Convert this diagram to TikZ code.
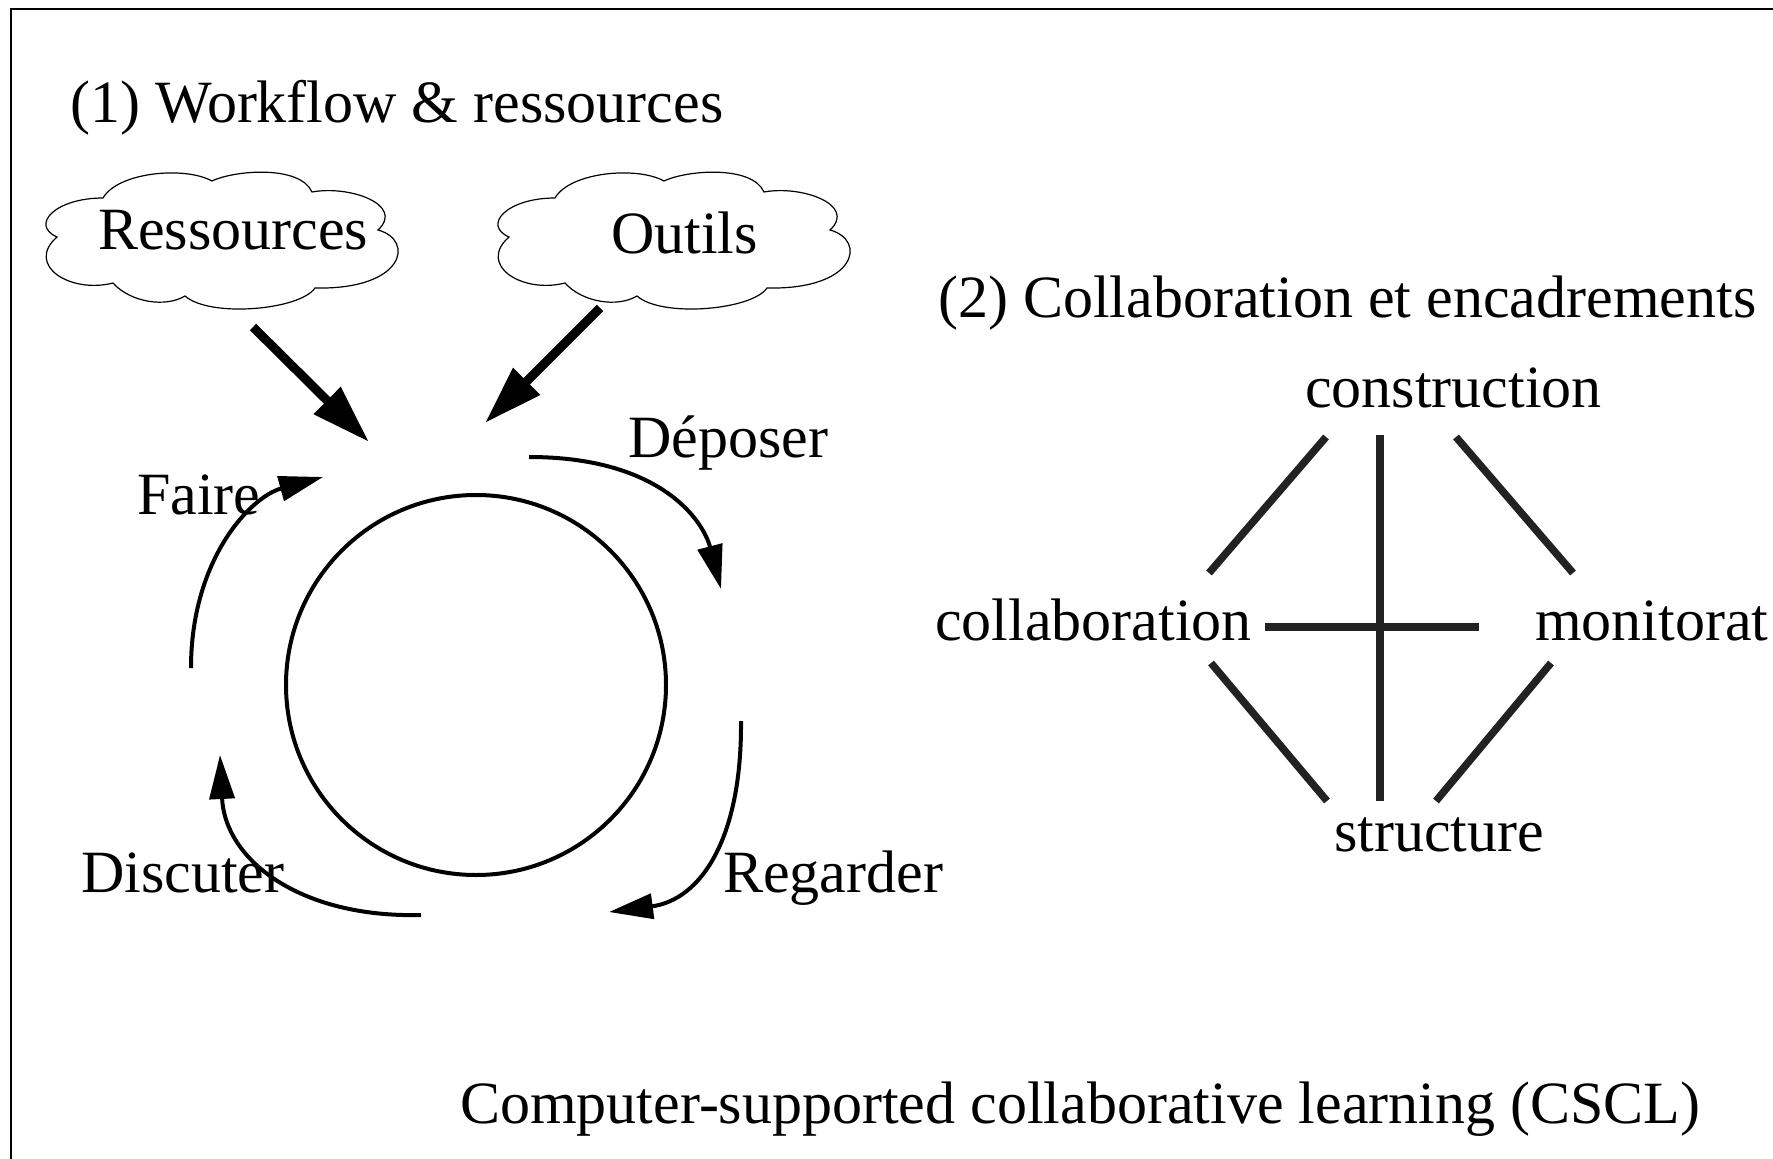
\documentclass[tikz,border=0pt]{standalone}
\usepackage{fontspec}
\setmainfont{Liberation Serif}
\usetikzlibrary{arrows.meta}
\definecolor{linkgray}{HTML}{222222}
\begin{document}
\begin{tikzpicture}[x=1pt,y=-1pt,
  lbl/.style={anchor=base west, inner sep=0pt, font=\fontsize{60}{72}\selectfont},
  thickarrow/.style={line width=9pt, -{Triangle[length=59pt,width=36pt]}},
  cyclearrow/.style={line width=4pt, -{Triangle[length=44pt,width=25pt]}},
  link/.style={line width=7.5pt, draw=linkgray},
  cloudline/.style={line width=1.2pt},
  cloudshape/.pic={
    \draw[cloudline] (103,198) .. controls (118,172) and (185,166) .. (212,181)
      .. controls (235,170) and (300,165) .. (312,192)
      .. controls (350,185) and (405,205) .. (378,230)
      .. controls (415,240) and (405,290) .. (315,288)
      .. controls (300,310) and (210,318) .. (185,296)
      .. controls (165,308) and (130,302) .. (113,283)
      .. controls (70,294) and (25,265) .. (57,237)
      .. controls (30,225) and (55,198) .. cycle;
  }]
\useasboundingbox (0,0) rectangle (1773,1159);
% frame
\draw[line width=2pt] (11,1300) -- (11,9) -- (1900,9);

% (1) workflow
\node[lbl] (t1) at (70,122) {(1) Workflow \& ressources};
\pic (cloudA) at (0,0) {cloudshape};
\pic (cloudB) at (452,0) {cloudshape};
\node[lbl] (res) at (98,249) {Ressources};
\node[lbl] (out) at (611,253) {Outils};

\coordinate (resfoot) at (253,327);
\coordinate (resend) at (369,442);
\coordinate (outfoot) at (600,308);
\coordinate (outend) at (485,423);
\draw[thickarrow] (resfoot) -- (resend);
\draw[thickarrow] (outfoot) -- (outend);

\node[draw, circle, line width=4pt, minimum size=380pt, inner sep=0pt] (wheel) at (476,685) {};

\node[lbl] (dep) at (628,457) {Déposer};
\node[lbl] (fai) at (137,514) {Faire};
\node[lbl] (dis) at (81,892) {Discuter};
\node[lbl] (reg) at (723,892) {Regarder};

\coordinate (depA) at (529,457);
\coordinate (depB) at (721,589);
\coordinate (regA) at (741,721);
\coordinate (regB) at (609,912);
\coordinate (disA) at (421,915);
\coordinate (disB) at (220,755);
\coordinate (faiA) at (191,668);
\coordinate (faiB) at (323,477);
\draw[cyclearrow] (depA) .. controls (660,457) and (703,520) .. (depB);
\draw[cyclearrow] (regA) .. controls (742,840) and (700,900) .. (regB);
\draw[cyclearrow] (disA) .. controls (300,918) and (225,860) .. (disB);
\draw[cyclearrow] (faiA) .. controls (191,560) and (250,497) .. (faiB);

% (2) collaboration
\node[lbl] (t2) at (938,317) {(2) Collaboration et encadrements};
\node[lbl] (con) at (1305,407) {construction};
\node[lbl] (col) at (935,640) {collaboration};
\node[lbl] (mon) at (1535,640) {monitorat};
\node[lbl] (str) at (1334,851) {structure};

\draw[link] ([shift={(21,30)}]con.base west) -- ([shift={(274,-67)}]col.base west);
\draw[link] ([shift={(151,30)}]con.base west) -- ([shift={(38,-67)}]mon.base west);
\draw[link] ([shift={(276,23)}]col.base west) -- ([shift={(-7,-50)}]str.base west);
\draw[link] ([shift={(16,23)}]mon.base west) -- ([shift={(102,-50)}]str.base west);
\draw[link] ([shift={(75,28)}]con.base west) -- ([shift={(46,-50)}]str.base west);
\draw[link] ([shift={(330,-13)}]col.base west) -- ([shift={(-56,-13)}]mon.base west);

\node[lbl] (cscl) at (460,1123) {Computer-supported collaborative learning (CSCL)};
\end{tikzpicture}
\end{document}
